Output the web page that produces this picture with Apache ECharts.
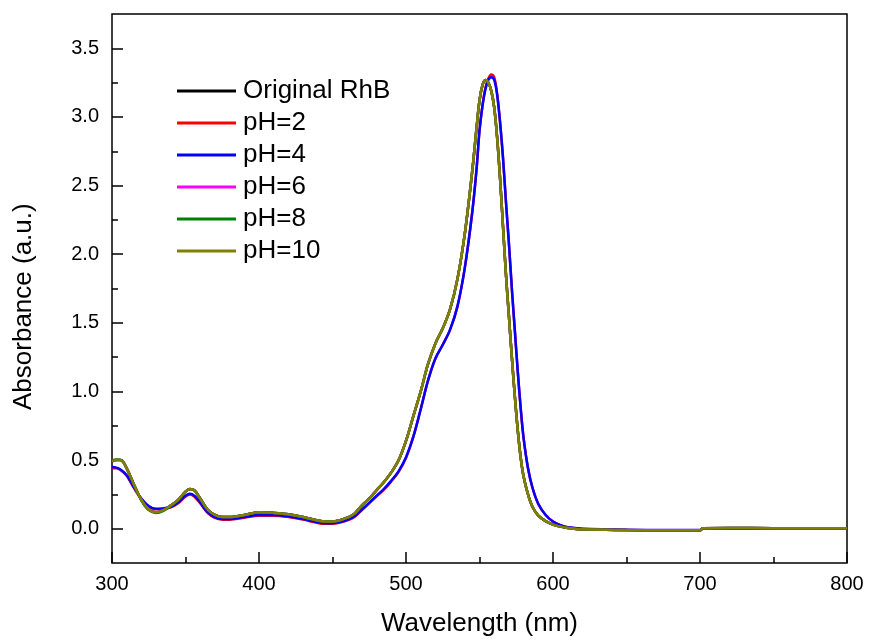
<!DOCTYPE html>
<html>
<head>
<meta charset="utf-8">
<script src="https://cdn.jsdelivr.net/npm/echarts@6/dist/echarts.min.js"></script>
<style>
html,body{margin:0;padding:0;background:#fff;}
#chart{width:869px;height:641px;}
</style>
</head>
<body>
<div id="chart"></div>
<script>
// Wavelength grid (nm)
const wavelength = [300,303,306,310,315,320,325,330,335,340,345,350,353,356,360,365,370,375,380,390,400,410,420,430,440,445,450,455,460,465,470,475,480,485,490,495,500,505,510,515,520,525,530,535,540,545,548,550,552,554,556,558,560,562,564,566,568,570,572,574,576,578,580,583,586,590,595,600,605,610,620,650,680,700,702,720,750,800];

const originalRhB = [0.49,0.50,0.50,0.44,0.32,0.21,0.14,0.12,0.135,0.17,0.21,0.27,0.29,0.28,0.22,0.14,0.10,0.085,0.085,0.10,0.12,0.115,0.105,0.085,0.06,0.052,0.052,0.062,0.08,0.11,0.17,0.22,0.28,0.34,0.41,0.50,0.64,0.82,1.00,1.20,1.35,1.46,1.60,1.82,2.15,2.60,2.92,3.12,3.23,3.27,3.25,3.19,3.07,2.85,2.55,2.20,1.85,1.55,1.25,0.97,0.72,0.52,0.38,0.25,0.16,0.095,0.055,0.03,0.015,0.005,-0.005,-0.01,-0.012,-0.012,0.004,0.005,0.004,0.003];

const pH2 = [0.44,0.44,0.425,0.385,0.295,0.215,0.16,0.142,0.145,0.155,0.185,0.235,0.25,0.235,0.185,0.115,0.078,0.066,0.066,0.08,0.095,0.095,0.085,0.066,0.042,0.036,0.036,0.044,0.06,0.086,0.135,0.185,0.235,0.285,0.345,0.415,0.515,0.67,0.87,1.08,1.24,1.34,1.45,1.62,1.90,2.30,2.62,2.90,3.08,3.21,3.28,3.31,3.29,3.17,2.96,2.70,2.38,2.08,1.75,1.45,1.15,0.88,0.66,0.44,0.30,0.18,0.10,0.052,0.025,0.01,-0.002,-0.01,-0.012,-0.012,0.0,0.0,0.0,-0.001];

const pH4 = [0.45,0.445,0.43,0.39,0.30,0.22,0.165,0.145,0.148,0.16,0.19,0.24,0.255,0.24,0.19,0.12,0.082,0.07,0.07,0.085,0.10,0.10,0.09,0.07,0.046,0.04,0.04,0.048,0.065,0.09,0.14,0.19,0.24,0.29,0.35,0.42,0.52,0.67,0.87,1.08,1.24,1.34,1.45,1.62,1.90,2.30,2.62,2.90,3.08,3.20,3.27,3.29,3.27,3.16,2.96,2.70,2.38,2.08,1.75,1.45,1.15,0.88,0.66,0.44,0.30,0.18,0.10,0.052,0.025,0.01,0.0,-0.008,-0.01,-0.01,0.003,0.003,0.002,0.001];

const pH6 = [0.49,0.50,0.50,0.44,0.32,0.21,0.14,0.12,0.135,0.17,0.21,0.27,0.29,0.28,0.22,0.14,0.10,0.085,0.085,0.10,0.12,0.115,0.105,0.085,0.06,0.052,0.052,0.062,0.08,0.11,0.17,0.22,0.28,0.34,0.41,0.50,0.64,0.82,1.00,1.20,1.35,1.46,1.60,1.82,2.15,2.60,2.92,3.12,3.23,3.27,3.25,3.19,3.07,2.85,2.55,2.20,1.85,1.55,1.25,0.97,0.72,0.52,0.38,0.25,0.16,0.095,0.055,0.03,0.015,0.005,-0.005,-0.01,-0.012,-0.012,0.004,0.005,0.004,0.003];

const pH8 = [0.495,0.505,0.50,0.44,0.32,0.205,0.135,0.115,0.13,0.165,0.21,0.27,0.29,0.28,0.22,0.14,0.10,0.085,0.085,0.10,0.12,0.115,0.105,0.085,0.06,0.052,0.052,0.062,0.08,0.11,0.17,0.22,0.28,0.34,0.41,0.50,0.64,0.82,1.00,1.20,1.35,1.46,1.60,1.82,2.15,2.60,2.92,3.12,3.23,3.27,3.25,3.19,3.07,2.85,2.55,2.20,1.85,1.55,1.25,0.97,0.72,0.52,0.38,0.25,0.16,0.095,0.055,0.03,0.015,0.005,-0.005,-0.01,-0.012,-0.012,0.004,0.005,0.004,0.003];

const pH10 = [0.49,0.50,0.50,0.44,0.32,0.21,0.14,0.12,0.135,0.17,0.21,0.27,0.29,0.28,0.22,0.14,0.10,0.085,0.085,0.10,0.12,0.115,0.105,0.085,0.06,0.052,0.052,0.062,0.08,0.11,0.17,0.22,0.28,0.34,0.41,0.50,0.64,0.82,1.00,1.20,1.35,1.46,1.60,1.82,2.15,2.60,2.92,3.12,3.23,3.27,3.25,3.19,3.07,2.85,2.55,2.20,1.85,1.55,1.25,0.97,0.72,0.52,0.38,0.25,0.16,0.095,0.055,0.03,0.015,0.005,-0.005,-0.01,-0.012,-0.012,0.004,0.005,0.004,0.003];

const seriesNames = ['Original RhB','pH=2','pH=4','pH=6','pH=8','pH=10'];
const seriesValues = [originalRhB, pH2, pH4, pH6, pH8, pH10];
const seriesColors = ['#000000','#ff0000','#0000ff','#ff00ff','#008000','#808000'];

// Tick values
const xMajorTicks = [300,400,500,600,700,800];
const xMinorTicks = [350,450,550,650,750];
const yMajorTicks = [0,0.5,1.0,1.5,2.0,2.5,3.0,3.5];
const yMinorTicks = [0.25,0.75,1.25,1.75,2.25,2.75,3.25];

const FONT = '"Liberation Sans", Arial, sans-serif';

const chart = echarts.init(document.getElementById('chart'), null, {renderer:'canvas'});

const series = seriesNames.map((name, i) => ({
  name: name,
  type: 'line',
  xAxisIndex: 0,
  yAxisIndex: 0,
  showSymbol: false,
  symbol: 'none',
  smooth: 0.35,
  lineStyle: {width: 2.5, color: seriesColors[i]},
  itemStyle: {color: seriesColors[i]},
  data: wavelength.map((w, j) => [w, seriesValues[i][j]]),
  z: 2 + i
}));

const option = {
  animation: false,
  backgroundColor: '#ffffff',
  grid: {left: 112, right: 22, top: 14, bottom: 78, show: true, borderColor: '#000', borderWidth: 1.5, backgroundColor: 'transparent'},
  xAxis: [
    {
      type: 'value', min: 300, max: 800,
      axisLine: {show: false, onZero: false},
      splitLine: {show: false},
      axisTick: {show: true, inside: true, length: 11, lineStyle: {color: '#000', width: 1.5}, customValues: xMajorTicks},
      axisLabel: {show: true, margin: 11, color: '#000', fontSize: 20, fontFamily: FONT, customValues: xMajorTicks}
    },
    {
      type: 'value', min: 300, max: 800, position: 'bottom',
      axisLine: {show: false, onZero: false},
      splitLine: {show: false},
      axisTick: {show: true, inside: true, length: 6, lineStyle: {color: '#000', width: 1.5}, customValues: xMinorTicks},
      axisLabel: {show: false}
    }
  ],
  yAxis: [
    {
      type: 'value', min: -0.25, max: 3.75,
      axisLine: {show: false, onZero: false},
      splitLine: {show: false},
      axisTick: {show: true, inside: true, length: 11, lineStyle: {color: '#000', width: 1.5}, customValues: yMajorTicks},
      axisLabel: {show: true, margin: 13, color: '#000', fontSize: 20, fontFamily: FONT, customValues: yMajorTicks,
        formatter: v => v.toFixed(1)}
    },
    {
      type: 'value', min: -0.25, max: 3.75, position: 'left',
      axisLine: {show: false, onZero: false},
      splitLine: {show: false},
      axisTick: {show: true, inside: true, length: 6, lineStyle: {color: '#000', width: 1.5}, customValues: yMinorTicks},
      axisLabel: {show: false}
    }
  ],
  legend: {
    orient: 'vertical',
    left: 177,
    top: 78,
    padding: 0,
    itemWidth: 59,
    itemHeight: 3,
    itemGap: 6,
    icon: 'rect',
    data: seriesNames,
    textStyle: {fontSize: 26, fontFamily: FONT, color: '#000', padding: [0,0,0,2], lineHeight: 26}
  },
  graphic: [
    {
      type: 'text',
      x: 479.5, y: 611,
      style: {text: 'Wavelength (nm)', fontSize: 26, fontFamily: FONT, fill: '#000', textAlign: 'center', textVerticalAlign: 'top'}
    },
    {
      type: 'text',
      rotation: Math.PI / 2,
      x: 11, y: 410,
      style: {text: 'Absorbance (a.u.)', fontSize: 26, fontFamily: FONT, fill: '#000', textAlign: 'left', textVerticalAlign: 'top'}
    }
  ],
  series: series
};
chart.setOption(option);
</script>
</body>
</html>
